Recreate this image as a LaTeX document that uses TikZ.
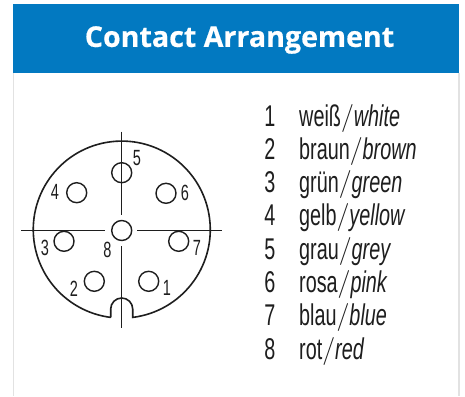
\documentclass[tikz,border=0pt]{standalone}
\usepackage{fontspec}
\newfontfamily\titlefont[BoldFeatures={FakeBold=0.5}]{Open Sans}
\newfontfamily\condfont[FakeStretch=0.66]{Liberation Sans}
\definecolor{headblue}{HTML}{0279C1}
\definecolor{edgegray}{HTML}{E2E2E2}
\definecolor{inkgray}{HTML}{1E1E1E}
\tikzset{
  x=1pt,y=-1pt,
  pinhole/.style={circle,draw=inkgray,line width=1.4pt,minimum size=20pt,inner sep=0pt,fill=none},
  pinlab/.style={inner sep=0pt,text=inkgray,font=\condfont\fontsize{22}{22}\selectfont},
  axisline/.style={draw=inkgray,line width=0.9pt},
  shell/.style={draw=inkgray,line width=1.6pt},
  numlab/.style={anchor=base,inner sep=0pt,text=inkgray,font=\condfont\fontsize{30}{30}\selectfont},
  colourlab/.style={anchor=base west,inner sep=0pt,text=inkgray,font=\condfont\fontsize{30}{30}\selectfont},
}
\newcommand{\slsh}{\raisebox{1pt}{\normalfont\rmfamily\fontsize{28}{28}\selectfont /}}
\begin{document}
\begin{tikzpicture}
\useasboundingbox (0,0) rectangle (465,396);
\fill[white] (0,0) rectangle (465,396);
\draw[edgegray,line width=1.3pt] (13.5,73) -- (13.5,396);
\draw[edgegray,line width=1.3pt] (459,73) -- (459,396);
\fill[headblue] (13,4) rectangle (459,73);
\node[inner sep=0pt,text=white,font=\titlefont\bfseries\fontsize{28.6}{29}\selectfont] (title) at (239.5,40) {Contact Arrangement};
% shell
\draw[shell] (110.7,317.4) -- (110.7,309) arc[start angle=180,end angle=0,radius=11pt] -- (132.7,317.4)
  arc[start angle=-82.9,end angle=262.9,radius=88.5pt];
% axes
\coordinate (vt) at (121.7,131.5); \coordinate (vm) at (121.7,214.5);
\coordinate (vn) at (121.7,246); \coordinate (vb) at (121.7,328);
\coordinate (hl) at (21,230.5); \coordinate (hm) at (105,230.5);
\coordinate (hn) at (137.3,230.5); \coordinate (hr) at (222.3,230.5);
\draw[axisline] (vt) -- (vm);
\draw[axisline] (vn) -- (vb);
\draw[axisline] (hl) -- (hm);
\draw[axisline] (hn) -- (hr);
% pins
\node[pinhole] (p1) at (148.7,281.3) {};
\node[pinhole] (p2) at (94.3,281.3) {};
\node[pinhole] (p3) at (64,241.3) {};
\node[pinhole] (p4) at (76.7,192.7) {};
\node[pinhole] (p5) at (121.7,172.7) {};
\node[pinhole] (p6) at (166,193.3) {};
\node[pinhole] (p7) at (178.7,241.3) {};
\node[pinhole] (p8) at (121.7,230.5) {};
\node[pinlab] (l1) at (167,288) {1};
\node[pinlab] (l2) at (74,289) {2};
\node[pinlab] (l3) at (45,248) {3};
\node[pinlab] (l4) at (55,192) {4};
\node[pinlab] (l5) at (137,158) {5};
\node[pinlab] (l6) at (185,193) {6};
\node[pinlab] (l7) at (197,248) {7};
\node[pinlab] (l8) at (107.5,250) {8};
% legend
\node[numlab] (n1) at (270,126) {1};
\node[numlab] (n2) at (270,159.3) {2};
\node[numlab] (n3) at (270,192.6) {3};
\node[numlab] (n4) at (270,225.9) {4};
\node[numlab] (n5) at (270,259.2) {5};
\node[numlab] (n6) at (270,292.5) {6};
\node[numlab] (n7) at (270,325.8) {7};
\node[numlab] (n8) at (270,359.1) {8};
\node[colourlab] (t1) at (299,126) {weiß\slsh\itshape white};
\node[colourlab] (t2) at (299,159.3) {braun\slsh\itshape brown};
\node[colourlab] (t3) at (299,192.6) {grün\slsh\itshape green};
\node[colourlab] (t4) at (299,225.9) {gelb\slsh\itshape yellow};
\node[colourlab] (t5) at (299,259.2) {grau\slsh\itshape grey};
\node[colourlab] (t6) at (299,292.5) {rosa\slsh\itshape pink};
\node[colourlab] (t7) at (299,325.8) {blau\slsh\itshape blue};
\node[colourlab] (t8) at (299,359.1) {rot\slsh\itshape red};
\end{tikzpicture}
\end{document}
